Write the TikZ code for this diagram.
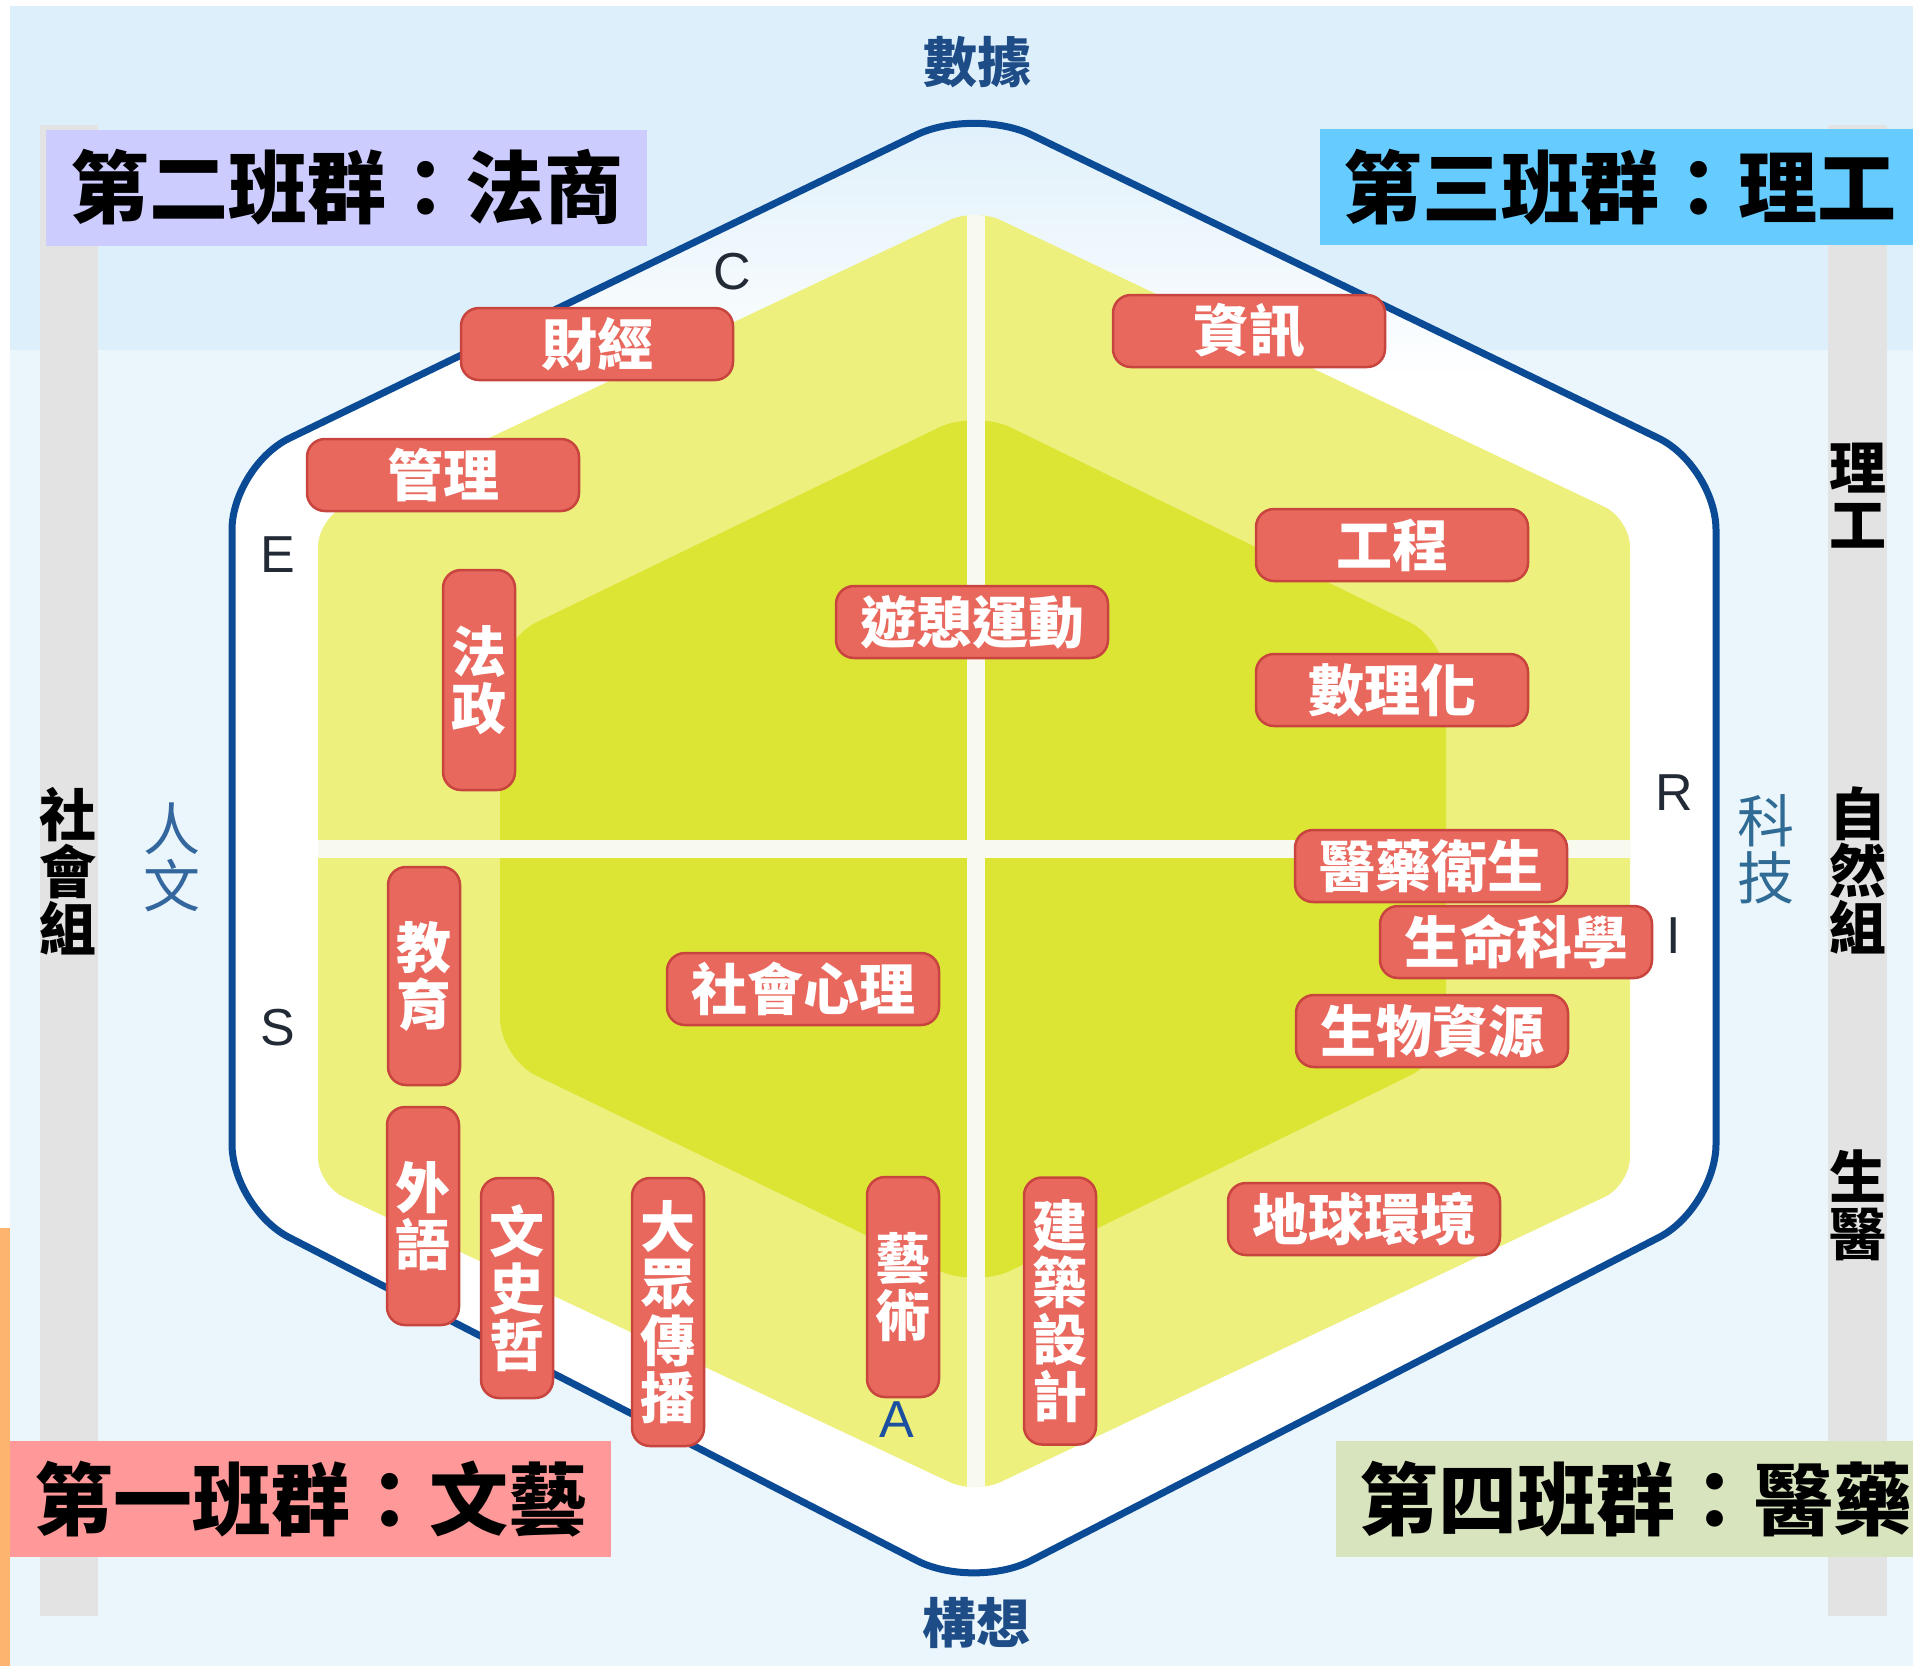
\documentclass[tikz,border=0pt]{standalone}
\usepackage{fontspec}
\setmainfont{Noto Sans CJK TC}
\newfontfamily\latinf{Liberation Sans}
\definecolor{bgtop}{HTML}{DDEFFA}
\definecolor{bgbot}{HTML}{EAF6FC}
\definecolor{hexline}{HTML}{0B4A94}
\definecolor{lightyel}{HTML}{EDF07C}
\definecolor{darkyel}{HTML}{DCE534}
\definecolor{labred}{HTML}{E8685E}
\definecolor{labborder}{HTML}{C8443E}
\definecolor{barcol}{HTML}{E3E3E3}
\definecolor{orangestrip}{HTML}{FDB46E}
\definecolor{grpA}{HTML}{FF9999}
\definecolor{grpB}{HTML}{CCCCFF}
\definecolor{grpC}{HTML}{66CCFF}
\definecolor{grpD}{HTML}{D7E4BD}
\definecolor{navytext}{HTML}{1E4C86}
\definecolor{letterdark}{HTML}{222A36}
\definecolor{letterblue}{HTML}{1B4FA0}
\definecolor{humcol}{HTML}{33679E}
\definecolor{techcol}{HTML}{2F6B94}
\definecolor{crosscol}{HTML}{F8FAF0}
\begin{document}
\begin{tikzpicture}[x=1pt,y=-1pt,
  hlab/.style={rectangle, rounded corners=18pt, fill=labred, draw=labborder, line width=2.5pt,
    minimum width=272pt, minimum height=72pt, inner sep=0pt, text=white,
    font=\fontsize{56pt}{58pt}\selectfont\bfseries},
  vlab/.style={hlab, minimum width=72pt, minimum height=220pt, align=center,
    font=\fontsize{55pt}{57pt}\selectfont\bfseries},
  grp/.style={rectangle, minimum width=601pt, minimum height=116pt, inner sep=0pt,
    text=black, font=\fontsize{79pt}{80pt}\selectfont\bfseries},
  sidetxt/.style={align=center, inner sep=0pt, text=black,
    font=\fontsize{57pt}{57pt}\selectfont\bfseries},
  softtxt/.style={align=center, inner sep=0pt,
    font=\fontsize{57pt}{57pt}\selectfont},
  axistxt/.style={inner sep=0pt, text=navytext, font=\fontsize{54pt}{56pt}\selectfont\bfseries},
  letter/.style={inner sep=0pt, text=letterdark, font=\latinf\fontsize{52pt}{54pt}\selectfont},
  graybar/.style={fill=barcol}
]
\clip (0,0) rectangle (1913,1666);
% background
\fill[white] (0,0) rectangle (1913,1666);
\fill[bgbot] (10,6) rectangle (1913,1666);
\fill[bgtop] (10,6) rectangle (1913,350);
\fill[orangestrip] (0,1228) rectangle (10,1666);
% gray side bars
\fill[graybar] (40,125) rectangle (98,1616);
\fill[graybar] (1828,125) rectangle (1887,1616);

% outer hexagon
\coordinate (oT) at (974,107);
\coordinate (oUL) at (232,466);
\coordinate (oLL) at (232,1208);
\coordinate (oB) at (974,1590);
\coordinate (oLR) at (1716,1208);
\coordinate (oUR) at (1716,466);
\coordinate (oM) at (232,838);
\begin{scope}
  \clip[rounded corners=64pt] (oM) -- (oLL) -- (oB) -- (oLR) -- (oUR) -- (oT) -- (oUL) -- cycle;
  \fill[white] (0,0) rectangle (1913,1666);
  \shade[top color=bgtop, bottom color=white] (0,100) rectangle (1913,380);
\end{scope}
\draw[hexline, line width=7pt, rounded corners=64pt]
  (oM) -- (oLL) -- (oB) -- (oLR) -- (oUR) -- (oT) -- (oUL) -- cycle;

% light yellow hexagon
\coordinate (lT) at (975,208);
\coordinate (lUL) at (318,519);
\coordinate (lLL) at (318,1185);
\coordinate (lB) at (975,1494);
\coordinate (lLR) at (1630,1185);
\coordinate (lUR) at (1630,519);
\coordinate (lM) at (318,850);
\fill[lightyel, rounded corners=28pt] (lM) -- (lLL) -- (lB) -- (lLR) -- (lUR) -- (lT) -- (lUL) -- cycle;

% dark yellow hexagon
\coordinate (dT) at (975,410);
\coordinate (dUL) at (500,640);
\coordinate (dLL) at (500,1058);
\coordinate (dB) at (975,1288);
\coordinate (dLR) at (1446,1058);
\coordinate (dUR) at (1446,640);
\coordinate (dM) at (500,849);
\fill[darkyel, rounded corners=40pt] (dM) -- (dLL) -- (dB) -- (dLR) -- (dUR) -- (dT) -- (dUL) -- cycle;

% white cross
\begin{scope}
  \clip[rounded corners=28pt] (lM) -- (lLL) -- (lB) -- (lLR) -- (lUR) -- (lT) -- (lUL) -- cycle;
  \fill[crosscol] (967,180) rectangle (985,1520);
  \fill[crosscol] (300,840) rectangle (1660,858);
\end{scope}

% red labels
\node[hlab] (caijing) at (597,344) {財經};
\node[hlab] (zixun) at (1249,331) {資訊};
\node[hlab] (guanli) at (443,475) {管理};
\node[hlab] (gongcheng) at (1392,545) {工程};
\node[hlab] (youqi) at (972,622) {遊憩運動};
\node[hlab] (shulihua) at (1392,690) {數理化};
\node[hlab] (yiyao) at (1431,866) {醫藥衛生};
\node[hlab] (shengming) at (1516,942) {生命科學};
\node[hlab] (shengwu) at (1432,1031) {生物資源};
\node[hlab] (shehui) at (803,989) {社會心理};
\node[hlab] (diqiu) at (1364,1219) {地球環境};
\node[vlab] (fazheng) at (479,680) {法\\政};
\node[vlab, minimum height=218pt] (jiaoyu) at (424,976) {教\\育};
\node[vlab, minimum height=218pt] (waiyu) at (423,1216) {外\\語};
\node[vlab] (wenshizhe) at (517,1288) {文\\史\\哲};
\node[vlab, minimum height=268pt] (dazhong) at (668,1312) {大\\眾\\傳\\播};
\node[vlab] (yishu) at (903,1287) {藝\\術};
\node[vlab, minimum height=267pt] (jianzhu) at (1060,1311) {建\\築\\設\\計};

% Holland letters
\node[letter] (lC) at (732,272) {C};
\node[letter] (lE) at (278,555) {E};
\node[letter] (lS) at (278,1028) {S};
\node[letter] (lR) at (1674,793) {R};
\node[letter] (lI) at (1674,936) {I};
\node[letter, text=letterblue] (lA) at (897,1420) {A};

% axis words
\node[axistxt] (shuju) at (977,62) {數據};
\node[axistxt] (gouxiang) at (976,1623) {構想};
\node[softtxt, text=humcol] (renwen) at (172,857) {人\\文};
\node[softtxt, text=techcol] (keji) at (1766,849) {科\\技};

% side bar words
\node[sidetxt] (shehuizu) at (68,871) {社\\會\\組};
\node[sidetxt] (ligong) at (1858,496) {理\\工};
\node[sidetxt] (ziranzu) at (1858,870) {自\\然\\組};
\node[sidetxt] (shengyi) at (1858,1205) {生\\醫};

% class group boxes
\node[grp, fill=grpB] (g2) at (346.5,187.5) {第二班群：法商};
\node[grp, fill=grpC] (g3) at (1620,187) {第三班群：理工};
\node[grp, fill=grpA] (g1) at (310.5,1499) {第一班群：文藝};
\node[grp, fill=grpD] (g4) at (1636,1499) {第四班群：醫藥};
\end{tikzpicture}
\end{document}
